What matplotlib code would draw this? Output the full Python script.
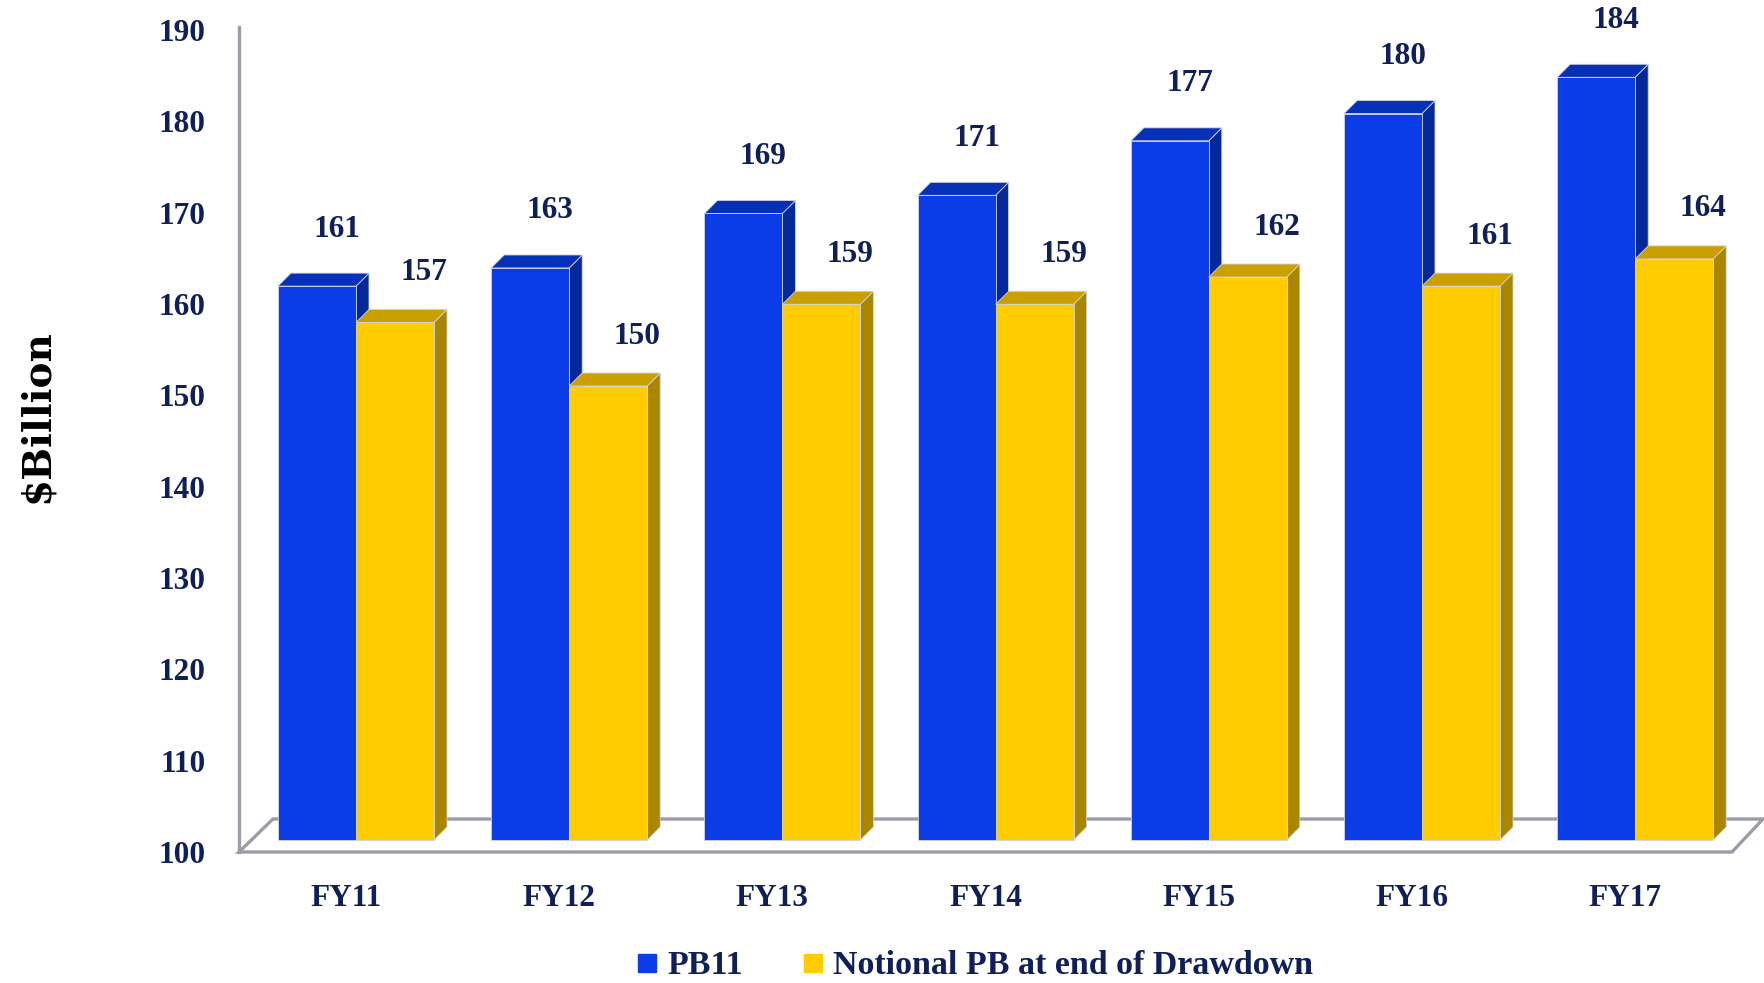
import matplotlib
matplotlib.use("Agg")
import matplotlib.pyplot as plt
from matplotlib.patches import Rectangle, Polygon
from matplotlib.lines import Line2D
from matplotlib.transforms import ScaledTranslation

# ---- data ----
categories = ["FY11", "FY12", "FY13", "FY14", "FY15", "FY16", "FY17"]
pb11 = [161, 163, 169, 171, 177, 180, 184]
notional = [157, 150, 159, 159, 162, 161, 164]
series_names = ["PB11", "Notional PB at end of Drawdown"]
yticks = [100, 110, 120, 130, 140, 150, 160, 170, 180, 190]

# ---- styling ----
W, H, DPI = 1765, 983, 100
navy = "#0f1f5a"
blue = dict(front="#0a3de8", top="#0530b8", side="#03289a")
gold = dict(front="#ffcc00", top="#c9a000", side="#a88600")
edge = "#d4d4dc"
wall = "#9c9ca8"
font = "Liberation Serif"

fig = plt.figure(figsize=(W / DPI, H / DPI), dpi=DPI)
fig.patch.set_facecolor("white")

# main axes: one x unit per category, value scale for the bars
px_unit_x = 213.2          # pixels per category
px_unit_y = 9.08           # pixels per $B
ax_left_px, ax_right_px = 200, 1765
ax_top_px, ax_bot_px = 20, 860
origin_x_px = 356          # centre of the first group
base_y_px = 840            # where the value 100 sits
ax = fig.add_axes([ax_left_px / W, 1 - ax_bot_px / H,
                   (ax_right_px - ax_left_px) / W, (ax_bot_px - ax_top_px) / H])
ax.set_xlim((ax_left_px - origin_x_px) / px_unit_x, (ax_right_px - origin_x_px) / px_unit_x)
ax.set_ylim(100 - (ax_bot_px - base_y_px) / px_unit_y, 100 + (base_y_px - ax_top_px) / px_unit_y)
ax.patch.set_visible(False)
for s in ax.spines.values():
    s.set_visible(False)
ax.tick_params(left=False, labelleft=False, bottom=False)

bar_w = 78 / px_unit_x
dx = 13 / px_unit_x
dy = 13 / px_unit_y
base = 100

# floor outline (perspective parallelogram)
fx0, fx1 = (239 - origin_x_px) / px_unit_x, (1732 - origin_x_px) / px_unit_x
bx0, bx1 = (273 - origin_x_px) / px_unit_x, (1763 - origin_x_px) / px_unit_x
fy = 100 - 12 / px_unit_y
by = 100 + 21 / px_unit_y
ax.add_patch(Polygon([(fx0, fy), (fx1, fy), (bx1, by), (bx0, by)], closed=True,
                     facecolor="none", edgecolor=wall, lw=2.4, clip_on=False, zorder=1))


def bar3d(x0, value, col):
    h = value - base
    ax.add_patch(Polygon([(x0 + bar_w, base), (x0 + bar_w + dx, base + dy),
                          (x0 + bar_w + dx, value + dy), (x0 + bar_w, value)],
                         closed=True, facecolor=col["side"], edgecolor=edge, lw=0.6, zorder=3))
    ax.add_patch(Polygon([(x0, value), (x0 + bar_w, value),
                          (x0 + bar_w + dx, value + dy), (x0 + dx, value + dy)],
                         closed=True, facecolor=col["top"], edgecolor=edge, lw=0.6, zorder=3))
    ax.add_patch(Rectangle((x0, base), bar_w, h, facecolor=col["front"],
                           edgecolor=edge, lw=0.6, zorder=3))


label_kw = dict(fontsize=22.5, fontweight="bold", color=navy, family=font,
                ha="center", va="center", textcoords="offset points", zorder=5)
for i, (a, b) in enumerate(zip(pb11, notional)):
    xa = i - bar_w
    xb = i
    bar3d(xa, a, blue)
    bar3d(xb, b, gold)
    ax.annotate(f"{a}", (xa + bar_w / 2, a), xytext=(20 * 0.72, 57 * 0.72), **label_kw)
    ax.annotate(f"{b}", (xb + bar_w / 2, b), xytext=(29 * 0.72, 50 * 0.72), **label_kw)

# category labels
ax.set_xticks(range(len(categories)))
ax.set_xticklabels(categories, fontsize=22.5, fontweight="bold", color=navy, family=font)
ax.tick_params(axis="x", pad=14)
for lbl in ax.get_xticklabels():
    lbl.set_transform(lbl.get_transform() + ScaledTranslation(-10 / DPI, 0, fig.dpi_scale_trans))

# value axis along the front-left edge
tick_unit = 9.133
ax2 = fig.add_axes([239 / W, 1 - ax_bot_px / H, 1 / W, (ax_bot_px - ax_top_px) / H])
ax2.set_ylim(100 - (ax_bot_px - 852) / tick_unit, 190 + (30 - ax_top_px) / tick_unit)
ax2.patch.set_visible(False)
for k in ("top", "right", "bottom"):
    ax2.spines[k].set_visible(False)
ax2.spines["left"].set_color(wall)
ax2.spines["left"].set_linewidth(2.4)
ax2.spines["left"].set_bounds(100, 190 + 3 / tick_unit)
ax2.set_xticks([])
ax2.set_yticks(yticks)
ax2.set_yticklabels([str(t) for t in yticks], fontsize=22.5, fontweight="bold",
                    color=navy, family=font)
ax2.tick_params(axis="y", length=0, pad=24)

fig.text(37 / W, 1 - 416 / H, "$Billion", rotation=90, ha="center", va="center",
         fontsize=28, fontweight="bold", color="black", family="DejaVu Serif")

handles = [Line2D([], [], marker="s", ls="", markersize=13, color=blue["front"]),
           Line2D([], [], marker="s", ls="", markersize=13, color=gold["front"])]
leg = fig.legend(handles, series_names, loc="center", bbox_to_anchor=(974 / W, 1 - 966 / H),
                 ncol=2, frameon=False, handlelength=0.7, handletextpad=0.25,
                 columnspacing=1.7, prop=dict(family=font, weight="bold", size=24.5))
for t in leg.get_texts():
    t.set_color(navy)

fig.savefig("out.png", dpi=DPI)
